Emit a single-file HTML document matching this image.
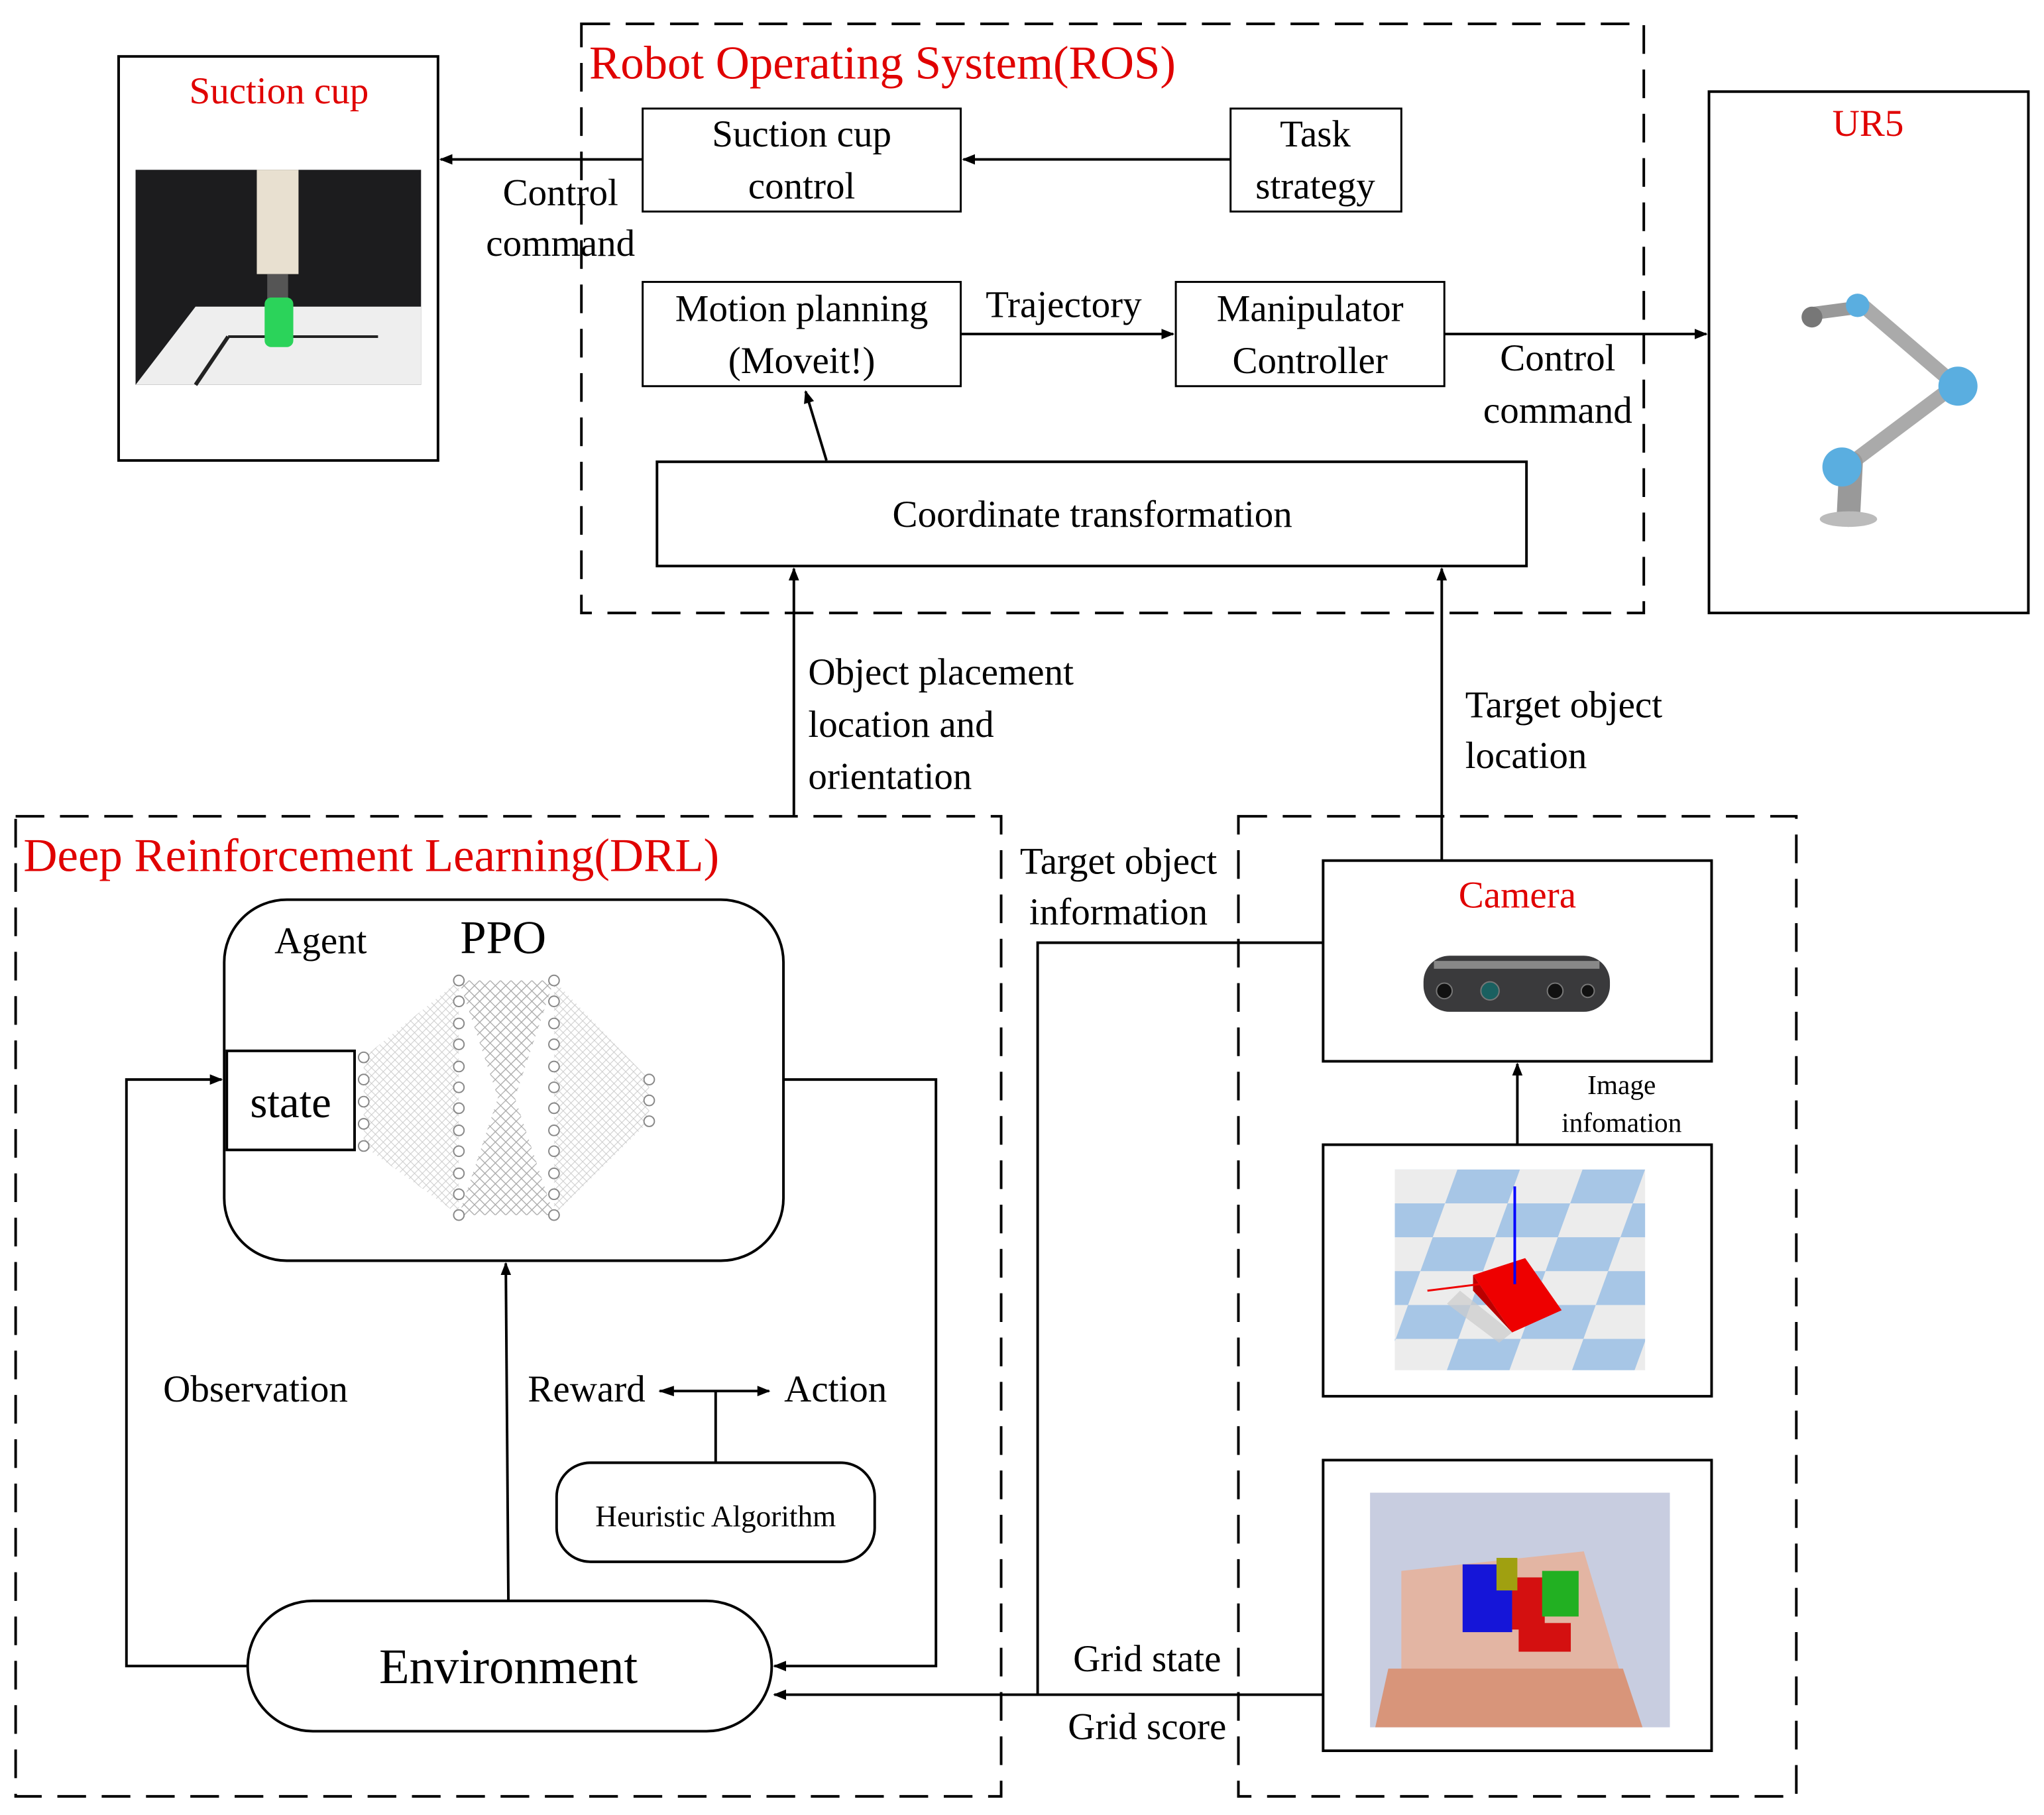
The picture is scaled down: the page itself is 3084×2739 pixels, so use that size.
<!DOCTYPE html>
<html><head><meta charset="utf-8">
<style>
html,body{margin:0;padding:0;background:#fff;}
svg{display:block;}
text{font-family:"Liberation Serif",serif;fill:#000;}
.r{fill:#e00000;}
</style></head>
<body>
<svg width="3084" height="2739" viewBox="0 0 1568 1392" xmlns="http://www.w3.org/2000/svg">
<defs>
<marker id="a" markerWidth="10" markerHeight="10" refX="9" refY="5" orient="auto" markerUnits="userSpaceOnUse"><path d="M0,1 L10,5 L0,9 Z" fill="#000"/></marker>
<marker id="b" markerWidth="12" markerHeight="10" refX="1" refY="5" orient="auto" markerUnits="userSpaceOnUse"><path d="M12,1 L0,5 L12,9 Z" fill="#000"/></marker>
<pattern id="hatch" width="8" height="8" patternUnits="userSpaceOnUse">
<path d="M0,0 L8,8 M8,0 L0,8" stroke="#aaa" stroke-width="0.6"/>
</pattern>
<pattern id="fan" width="6" height="6" patternUnits="userSpaceOnUse">
<path d="M0,0 L6,6 M6,0 L0,6" stroke="#ccc" stroke-width="0.5"/>
</pattern>
<pattern id="chk" width="96" height="52" patternUnits="userSpaceOnUse" patternTransform="translate(1070,897) skewX(-20)">
<rect width="96" height="52" fill="#a7c6e6"/>
<rect x="0" y="0" width="48" height="26" fill="#ececec"/>
<rect x="48" y="26" width="48" height="26" fill="#ececec"/>
</pattern>
<circle id="n" r="4" fill="#fff" stroke="#888" stroke-width="1"/>
</defs>
<rect width="1568" height="1392" fill="#fff"/>
<g fill="none" stroke="#000" stroke-width="2">
<rect x="446" y="18" width="815" height="452" stroke-dasharray="22,12"/>
<rect x="12" y="626" width="756" height="752" stroke-dasharray="22,12"/>
<rect x="950" y="626" width="428" height="752" stroke-dasharray="22,12"/>
<rect x="91" y="43" width="245" height="310"/>
<rect x="1311" y="70" width="245" height="400"/>
<rect x="493" y="83" width="244" height="79" stroke-width="1.5"/>
<rect x="944" y="83" width="131" height="79" stroke-width="1.5"/>
<rect x="493" y="216" width="244" height="80" stroke-width="1.5"/>
<rect x="902" y="216" width="206" height="80" stroke-width="1.5"/>
<rect x="504" y="354" width="667" height="80"/>
<rect x="1015" y="660" width="298" height="154"/>
<rect x="1015" y="878" width="298" height="193"/>
<rect x="1015" y="1120" width="298" height="223"/>
<rect x="172" y="690" width="429" height="277" rx="48"/>
<rect x="427" y="1122" width="244" height="76" rx="26"/>
<rect x="190" y="1228" width="402" height="100" rx="50"/>
<line x1="944" y1="122" x2="739" y2="122" marker-end="url(#a)"/>
<line x1="493" y1="122" x2="338" y2="122" marker-end="url(#a)"/>
<line x1="737" y1="256" x2="900" y2="256" marker-end="url(#a)"/>
<line x1="1108" y1="256" x2="1309" y2="256" marker-end="url(#a)"/>
<line x1="634" y1="353" x2="618" y2="300" marker-end="url(#a)"/>
<line x1="609" y1="625" x2="609" y2="436" marker-end="url(#a)"/>
<line x1="1106" y1="660" x2="1106" y2="436" marker-end="url(#a)"/>
<line x1="1164" y1="878" x2="1164" y2="816" marker-end="url(#a)"/>
<polyline points="1015,723 796,723 796,1300"/>
<line x1="1015" y1="1300" x2="594" y2="1300" marker-end="url(#a)"/>
<polyline points="601,828 718,828 718,1278 594,1278" marker-end="url(#a)"/>
<polyline points="190,1278 97,1278 97,828 170,828" marker-end="url(#a)"/>
<line x1="390" y1="1228" x2="388" y2="969" marker-end="url(#a)"/>
<line x1="506" y1="1067" x2="590" y2="1067" marker-start="url(#b)" marker-end="url(#a)"/>
<line x1="549" y1="1067" x2="549" y2="1122"/>
</g>

<!-- neural net -->
<polygon points="279,811 352,752 352,932 279,879" fill="url(#fan)"/>
<polygon points="425,752 498,828 498,860 425,932" fill="url(#fan)"/>
<polygon points="352,752 425,752 395,842 425,932 352,932 382,842" fill="url(#hatch)"/>
<polygon points="352,752 425,752 352,932 425,932" fill="url(#hatch)" opacity="0.6"/>
<g>
<use href="#n" x="279" y="811"/><use href="#n" x="279" y="828"/><use href="#n" x="279" y="845"/><use href="#n" x="279" y="862"/><use href="#n" x="279" y="879"/>
<use href="#n" x="352" y="752"/><use href="#n" x="352" y="768"/><use href="#n" x="352" y="785"/><use href="#n" x="352" y="801"/><use href="#n" x="352" y="818"/><use href="#n" x="352" y="834"/><use href="#n" x="352" y="850"/><use href="#n" x="352" y="867"/><use href="#n" x="352" y="883"/><use href="#n" x="352" y="900"/><use href="#n" x="352" y="916"/><use href="#n" x="352" y="932"/>
<use href="#n" x="425" y="752"/><use href="#n" x="425" y="768"/><use href="#n" x="425" y="785"/><use href="#n" x="425" y="801"/><use href="#n" x="425" y="818"/><use href="#n" x="425" y="834"/><use href="#n" x="425" y="850"/><use href="#n" x="425" y="867"/><use href="#n" x="425" y="883"/><use href="#n" x="425" y="900"/><use href="#n" x="425" y="916"/><use href="#n" x="425" y="932"/>
<use href="#n" x="498" y="828"/><use href="#n" x="498" y="844"/><use href="#n" x="498" y="860"/>
</g>
<rect x="174" y="806" width="98" height="76" fill="#fff" stroke="#000" stroke-width="2"/>

<!-- suction cup photo -->
<rect x="104" y="130" width="219" height="165" fill="#1c1c1e"/>
<polygon points="104,295 150,235 323,235 323,295" fill="#eee"/>
<line x1="150" y1="295" x2="175" y2="258" stroke="#222" stroke-width="3"/>
<line x1="175" y1="258" x2="290" y2="258" stroke="#222" stroke-width="2"/>
<rect x="197" y="130" width="32" height="80" fill="#e8e0d0"/>
<rect x="205" y="210" width="16" height="20" fill="#555"/>
<rect x="203" y="228" width="22" height="38" rx="5" fill="#2bd35a"/>

<!-- UR5 arm -->
<g stroke-linecap="round">
<line x1="1392" y1="240" x2="1430" y2="235" stroke="#999" stroke-width="10"/>
<line x1="1430" y1="235" x2="1500" y2="295" stroke="#aaa" stroke-width="11"/>
<line x1="1500" y1="295" x2="1420" y2="355" stroke="#aaa" stroke-width="11"/>
<line x1="1420" y1="355" x2="1418" y2="395" stroke="#999" stroke-width="18"/>
<circle cx="1502" cy="296" r="15" fill="#5aaee0"/>
<circle cx="1413" cy="358" r="15" fill="#5aaee0"/>
<circle cx="1425" cy="234" r="9" fill="#5aaee0"/>
<circle cx="1390" cy="243" r="8" fill="#777"/>
<ellipse cx="1418" cy="398" rx="22" ry="6" fill="#bbb"/>
</g>

<!-- camera -->
<rect x="1092" y="733" width="143" height="43" rx="20" fill="#3a3a3c"/>
<rect x="1100" y="737" width="127" height="6" fill="#888"/>
<circle cx="1108" cy="760" r="6" fill="#111" stroke="#777"/>
<circle cx="1143" cy="760" r="7" fill="#1a6060" stroke="#777"/>
<circle cx="1193" cy="760" r="6" fill="#111" stroke="#777"/>
<circle cx="1218" cy="760" r="5" fill="#111" stroke="#777"/>

<!-- sim checker -->
<rect x="1070" y="897" width="192" height="154" fill="url(#chk)"/>
<polygon points="1130,978 1170,965 1198,1005 1160,1022" fill="#e00"/>
<polygon points="1130,978 1130,990 1160,1022" fill="#b00"/>
<polygon points="1120,990 1160,1022 1150,1030 1110,1000" fill="#ccc" opacity="0.7"/>
<line x1="1162" y1="910" x2="1162" y2="985" stroke="#00f" stroke-width="2"/>
<line x1="1095" y1="990" x2="1135" y2="985" stroke="#e00" stroke-width="1.5"/>

<!-- bin sim -->
<rect x="1051" y="1145" width="230" height="180" fill="#c8cde0"/>
<polygon points="1075,1205 1215,1190 1245,1290 1075,1310" fill="#e6b29c" opacity="0.9"/>
<polygon points="1065,1280 1245,1280 1260,1325 1055,1325" fill="#d8957a"/>
<rect x="1122" y="1200" width="38" height="52" fill="#1515d8"/>
<rect x="1160" y="1210" width="25" height="40" fill="#d41010"/>
<rect x="1183" y="1205" width="28" height="35" fill="#22b022"/>
<rect x="1148" y="1195" width="16" height="25" fill="#a0a010"/>
<rect x="1165" y="1245" width="40" height="22" fill="#d41010"/>

<!-- text -->
<text x="452" y="60" font-size="36" class="r">Robot Operating System(ROS)</text>
<text x="214" y="79" font-size="29" class="r" text-anchor="middle">Suction cup</text>
<text x="1433" y="104" font-size="29" class="r" text-anchor="middle">UR5</text>
<text x="18" y="668" font-size="36" class="r">Deep Reinforcement Learning(DRL)</text>
<text x="1164" y="696" font-size="29" class="r" text-anchor="middle">Camera</text>
<g font-size="29" text-anchor="middle">
<text x="615" y="112">Suction cup</text><text x="615" y="152">control</text>
<text x="1009" y="112">Task</text><text x="1009" y="152">strategy</text>
<text x="430" y="157">Control</text><text x="430" y="196">command</text>
<text x="615" y="246">Motion planning</text><text x="615" y="286">(Moveit!)</text>
<text x="1005" y="246">Manipulator</text><text x="1005" y="286">Controller</text>
<text x="816" y="243">Trajectory</text>
<text x="1195" y="284">Control</text><text x="1195" y="324">command</text>
<text x="838" y="404">Coordinate transformation</text>
<text x="858" y="670">Target object</text><text x="858" y="709">information</text>
<text x="246" y="731">Agent</text>
<text x="223" y="857" font-size="34">state</text>
<text x="196" y="1075">Observation</text>
<text x="450" y="1075">Reward</text>
<text x="641" y="1075">Action</text>
<text x="880" y="1282">Grid state</text>
<text x="880" y="1334">Grid score</text>
<text x="390" y="1291" font-size="38">Environment</text>
</g>
<text x="386" y="731" font-size="36" text-anchor="middle">PPO</text>
<text x="549" y="1171" font-size="23" text-anchor="middle">Heuristic Algorithm</text>
<text x="1244" y="839" font-size="21" text-anchor="middle">Image</text>
<text x="1244" y="868" font-size="21" text-anchor="middle">infomation</text>
<g font-size="29">
<text x="620" y="525">Object placement</text><text x="620" y="565">location and</text><text x="620" y="605">orientation</text>
<text x="1124" y="550">Target object</text><text x="1124" y="589">location</text>
</g>
</svg>
</body></html>
